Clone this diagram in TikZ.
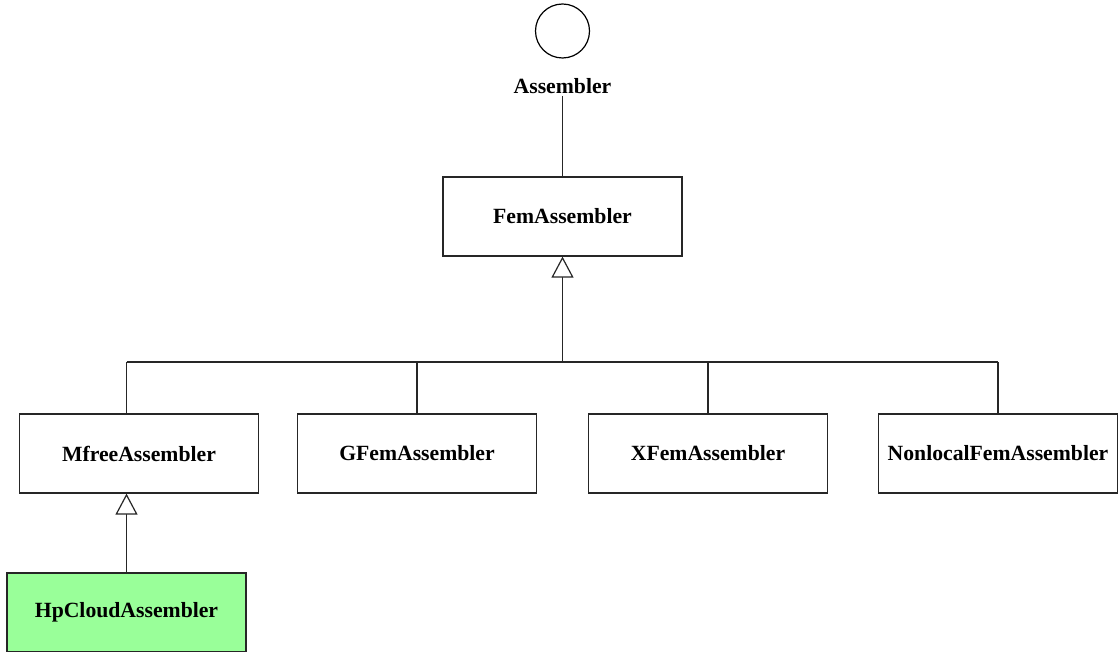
\documentclass[tikz,border=0pt]{standalone}
\usepackage{fontspec}
\setmainfont{Liberation Serif}
\usetikzlibrary{arrows.meta}
\begin{document}
\begin{tikzpicture}[x=1pt,y=-1pt,
  every node/.style={font=\fontsize{21.7}{26}\selectfont\bfseries},
  cls/.style={draw=black!85, line width=1.2pt, rectangle, minimum width=239pt, minimum height=79pt, inner sep=0pt, fill=white},
  hpcls/.style={cls, fill=hpgreen},
  conn/.style={draw=black!85, line width=1.2pt},
  inh/.style={conn, -{Triangle[open, length=21pt, width=22pt, line width=1.2pt, fill=white]}}
]
\definecolor{hpgreen}{RGB}{153,255,153}
\useasboundingbox (0,0) rectangle (1118,652);
\node[draw=black, line width=1.2pt, circle, minimum size=54pt, inner sep=0pt] (circ) at (562.5,31) {};
\node[inner sep=2pt] (asm) at (562.5,86) {Assembler};
\node[cls] (fem) at (562.5,216.5) {FemAssembler};
\node[cls] (mfree) at (139,453.5) {MfreeAssembler};
\node[cls] (gfem) at (417,453.5) {GFemAssembler};
\node[cls] (xfem) at (708,453.5) {XFemAssembler};
\node[cls] (nonlocal) at (998,453.5) {NonlocalFemAssembler};
\node[hpcls] (hp) at (126.5,612.5) {HpCloudAssembler};
\coordinate (busL) at (126.5,362);
\coordinate (busR) at (998,362);
\coordinate (busM) at (fem.south |- busL);
\draw[conn] (asm.south) -- (fem.north);
\draw[inh] (busM) -- (fem.south);
\draw[conn] (busL) -- (busR);
\draw[conn] (busL) -- (busL |- mfree.north);
\draw[conn] (gfem.north) -- (gfem.north |- busL);
\draw[conn] (xfem.north) -- (xfem.north |- busL);
\draw[conn] (nonlocal.north) -- (busR);
\draw[inh] (hp.north) -- (hp.north |- mfree.south);
\end{tikzpicture}
\end{document}
